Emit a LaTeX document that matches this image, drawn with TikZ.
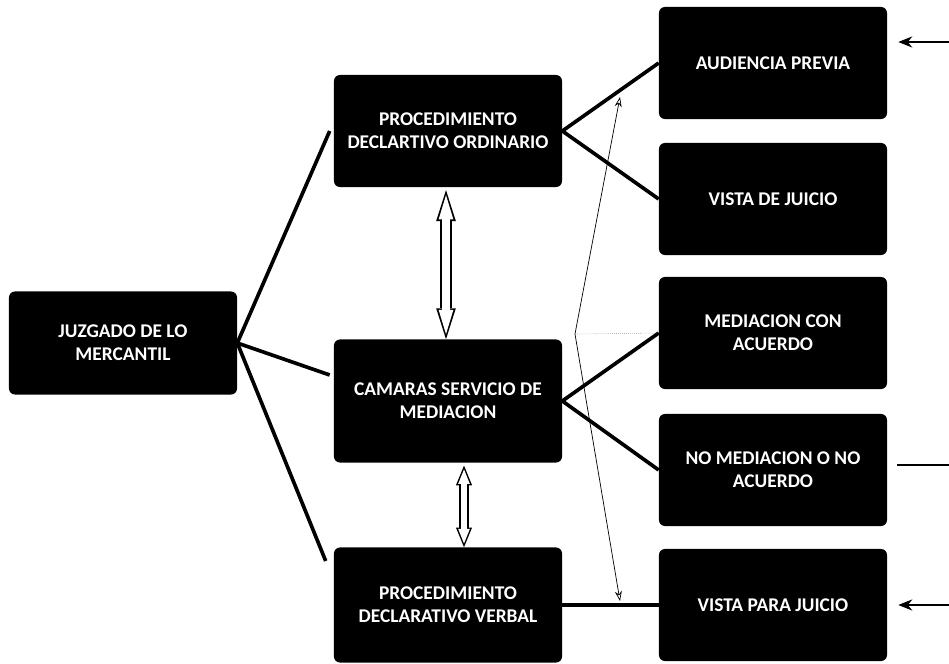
\documentclass[tikz,border=0pt]{standalone}
\usepackage{fontspec}
\setmainfont{Carlito}
\usepackage{tikz}
\usetikzlibrary{arrows.meta,positioning,calc}

\begin{document}
\begin{tikzpicture}[
    x=0.025cm, y=-0.025cm,
    box/.style={rectangle, fill=black, text=white, rounded corners=0.15cm, minimum width=5.7cm, minimum height=2.8cm, align=center, font=\fontsize{13.8}{16.5}\selectfont\bfseries},
    link/.style={line width=2.6pt},
    hollowout/.style={line width=8.5pt, {Triangle[length=22pt, width=14pt, line width=0pt]}-{Triangle[length=22pt, width=14pt, line width=0pt]}},
    hollowin/.style={white, line width=6.3pt, shorten <=3.6pt, shorten >=3.6pt, {Triangle[length=17.3pt, width=10.5pt, line width=0pt]}-{Triangle[length=17.3pt, width=10.5pt, line width=0pt]}},
    smallout/.style={line width=6.8pt, {Triangle[length=14pt, width=11.5pt, line width=0pt]}-{Triangle[length=14pt, width=11.5pt, line width=0pt]}},
    smallin/.style={white, line width=4.8pt, shorten <=2.7pt, shorten >=2.7pt, {Triangle[length=10.3pt, width=8.3pt, line width=0pt]}-{Triangle[length=10.3pt, width=8.3pt, line width=0pt]}},
    thinlink/.style={line width=0.5pt, {Stealth[open, length=7pt, width=5pt]}-{Stealth[open, length=7pt, width=5pt]}},
    side/.style={line width=0.9pt}
]
    \useasboundingbox (0,0) rectangle (949,664);

    % left and middle column
    \node [box, minimum height=2.575cm] (juzgado) at (123,343) {JUZGADO DE LO\\MERCANTIL};
    \node [box] (ordinario) at (448,131) {PROCEDIMIENTO\\DECLARTIVO ORDINARIO};
    \node [box, minimum height=3.075cm] (camaras) at (448,401) {CAMARAS SERVICIO DE\\MEDIACION};
    \node [box, minimum height=2.875cm] (verbal) at (448,605) {PROCEDIMIENTO\\DECLARATIVO VERBAL};

    % right column
    \node [box] (audiencia) at (773,63) {AUDIENCIA PREVIA};
    \node [box] (vista) at (773,199) {VISTA DE JUICIO};
    \node [box] (mediacion) at (773,333) {MEDIACION CON\\ACUERDO};
    \node [box] (nomed) at (773,470) {NO MEDIACION O NO\\ACUERDO};
    \node [box] (vistapara) at (773,605) {VISTA PARA JUICIO};

    \draw [link] (juzgado.east) -- ([xshift=-0.1cm]ordinario.west);
    \draw [link] (juzgado.east) -- ([xshift=-0.1cm, yshift=0.65cm]camaras.west);
    \draw [link] (juzgado.east) -- ([xshift=-0.2cm, yshift=1.1cm]verbal.west);

    \draw [link] (audiencia.west) -- (ordinario.east) -- (vista.west);
    \draw [link] (mediacion.west) -- (camaras.east) -- (nomed.west);
    \draw [link] (verbal.east) -- (vistapara.west);

    % hollow double arrows
    \draw [hollowout] ([xshift=-0.05cm, yshift=-0.07cm]ordinario.south) -- ([xshift=-0.05cm]camaras.north);
    \draw [hollowin] ([xshift=-0.05cm, yshift=-0.07cm]ordinario.south) -- ([xshift=-0.05cm]camaras.north);
    \draw [smallout] ([xshift=0.4cm, yshift=-0.07cm]camaras.south) -- ([xshift=0.4cm]verbal.north);
    \draw [smallin] ([xshift=0.4cm, yshift=-0.07cm]camaras.south) -- ([xshift=0.4cm]verbal.north);

    % thin connector and dotted line
    \coordinate (top) at (620,97);
    \coordinate (bend) at (575,334);
    \coordinate (low) at (620,601);
    \draw [thinlink] (top) -- (bend) -- (low);
    \draw [densely dotted, line width=0.4pt, gray] (bend) -- (mediacion.west);

    % incoming lines at the right edge
    \coordinate (inA) at (949,42);
    \coordinate (inB) at (949,465);
    \coordinate (inC) at (949,605);
    \draw [side, -{Stealth[length=10pt, width=8pt]}] (inA) -- ([xshift=0.275cm]audiencia.east |- inA);
    \draw [side] (inB) -- ([xshift=0.25cm]nomed.east |- inB);
    \draw [side, -{Stealth[length=10pt, width=8pt]}] (inC) -- ([xshift=0.275cm]vistapara.east |- inC);
\end{tikzpicture}
\end{document}
